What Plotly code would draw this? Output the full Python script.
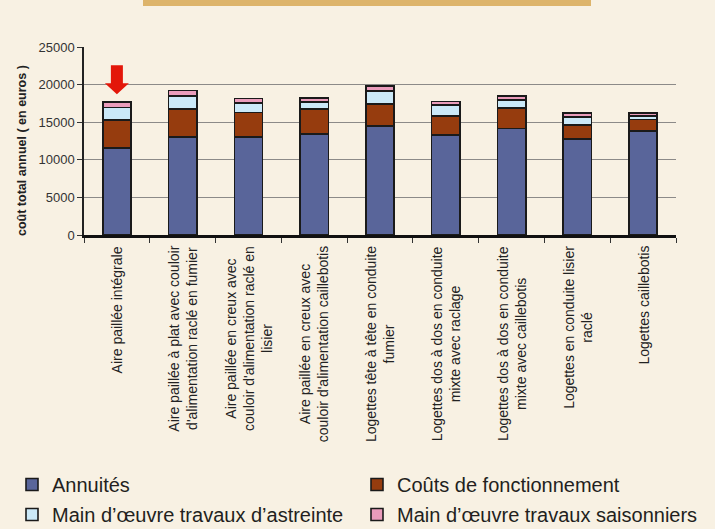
import plotly.graph_objects as go

categories = [
    "Aire paillée intégrale",
    "Aire paillée à plat avec couloir<br>d'alimentation raclé en fumier",
    "Aire paillée en creux avec<br>couloir d'alimentation raclé en<br>lisier",
    "Aire paillée en creux avec<br>couloir d'alimentation caillebotis",
    "Logettes tête à tête en conduite<br>fumier",
    "Logettes dos à dos en conduite<br>mixte avec raclage",
    "Logettes dos à dos en conduite<br>mixte avec caillebotis",
    "Logettes en conduite lisier<br>raclé",
    "Logettes caillebotis",
]
annuites = [11600, 13000, 13000, 13450, 14500, 13300, 14150, 12750, 13800]
fonctionnement = [3700, 3750, 3300, 3300, 2950, 2550, 2700, 1900, 1550]
astreinte = [1650, 1700, 1250, 900, 1730, 1400, 1100, 1050, 450]
saisonniers = [700, 750, 600, 530, 670, 500, 500, 550, 450]
y_ticks = [0, 5000, 10000, 15000, 20000, 25000]

series = [
    ("Annuités", annuites, "#59659A", "legend"),
    ("Coûts de fonctionnement", fonctionnement, "#963C0E", "legend2"),
    ("Main d’œuvre travaux d’astreinte", astreinte, "#CBE9F8", "legend"),
    ("Main d’œuvre travaux saisonniers", saisonniers, "#EA9CBB", "legend2"),
]

BG = "#F8F1E3"
fig = go.Figure()
for name, vals, col, lg in series:
    fig.add_trace(go.Bar(
        x=categories, y=vals, name=name, width=0.43,
        marker=dict(color=col, line=dict(color="#1a1a1a", width=1.6)),
        legend=lg, legendgroup=name,
    ))

legend_font = dict(family="Liberation Sans", size=20, color="#231F20")
leg_y = (235 - 465) / 188
fig.update_layout(
    barmode="stack",
    width=715, height=529,
    paper_bgcolor=BG, plot_bgcolor=BG,
    margin=dict(l=84, r=39, t=47, b=294, autoexpand=False),
    legend=dict(x=(12 - 84) / 592, y=leg_y, xanchor="left", yanchor="top",
                orientation="v", traceorder="grouped", tracegroupgap=1, font=legend_font,
                bgcolor="rgba(0,0,0,0)"),
    legend2=dict(x=(357 - 84) / 592, y=leg_y, xanchor="left", yanchor="top",
                 orientation="v", traceorder="grouped", tracegroupgap=1, font=legend_font,
                 bgcolor="rgba(0,0,0,0)"),
    xaxis=dict(showticklabels=False, ticks="outside", tickson="boundaries", ticklen=5,
               tickcolor="#333", showline=True, linecolor="#111", linewidth=2.5,
               showgrid=False),
    yaxis=dict(range=[0, 25000], tickvals=y_ticks, tickformat="d", ticks="outside", ticklen=5,
               tickcolor="#333", showline=True, linecolor="#222", linewidth=1.5,
               gridcolor="#8C8A88", gridwidth=1, zeroline=False,
               tickfont=dict(family="Liberation Sans", size=13, color="#333")),
    font=dict(family="Liberation Sans"),
)

# Category labels, rotated, lines centered
for c in categories:
    fig.add_annotation(x=c, xref="x", y=0, yref="paper", yanchor="top", yshift=-9,
                       text=c, textangle=-90, showarrow=False, align="center",
                       font=dict(family="Liberation Sans", size=14, color="#222"))

# Y axis title
fig.add_annotation(x=(22 - 84) / 592, xref="paper", y=(235 - 151) / 188, yref="paper",
                   text="<b>coût total annuel ( en euros )</b>", textangle=-90,
                   showarrow=False, xanchor="center", yanchor="middle",
                   font=dict(family="Liberation Sans", size=12.5, color="#222"))

# Top decorative band
fig.add_shape(type="rect", xref="paper", yref="paper",
              x0=(143 - 84) / 592, x1=(591 - 84) / 592,
              y0=(235 - 6) / 188, y1=(235 + 2) / 188,
              fillcolor="#DDB46B", line=dict(width=0), layer="above")

# Red arrow above first bar
first_total = annuites[0] + fonctionnement[0] + astreinte[0] + saisonniers[0]
fig.add_shape(type="path", xref="x", yref="y", xsizemode="pixel", ysizemode="pixel",
              xanchor=categories[0], yanchor=first_total,
              path="M-6,37 L6,37 L6,19 L12,19 L0,8 L-12,19 L-6,19 Z",
              fillcolor="#E3170A", line=dict(width=0))

fig.write_html("out.html", config={"displayModeBar": False},
               post_script="document.body.style.margin='0';document.body.style.padding='0';"
                           "document.body.style.overflow='hidden';")
